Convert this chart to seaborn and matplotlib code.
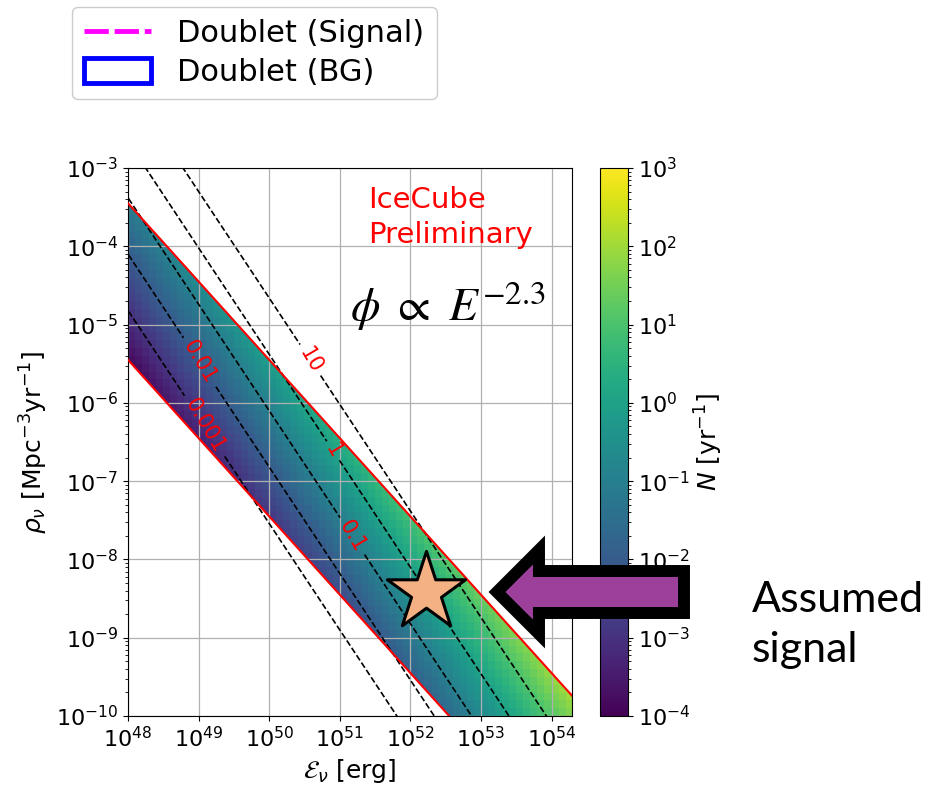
import numpy as np
import matplotlib
matplotlib.use("Agg")
import matplotlib.pyplot as plt
import seaborn as sns
import pandas as pd
from matplotlib.colors import LogNorm
from matplotlib.patches import Polygon, Patch
from matplotlib.lines import Line2D
from matplotlib.ticker import NullLocator, LogLocator

# ---------------- data ----------------
log_E_limits = [48.0, 54.3]          # x range (log10 erg)
log_rho_limits = [-10.0, -3.0]       # y range (log10 Mpc^-3 yr^-1)
cell_dex = 0.1                       # heat-map cell size (decades)
band_log_Erho = [42.55, 44.55]       # band edges: log10(E*rho) lower / upper
# contour model: log10 N = (log rho + k_E * log E - c_unit) / dex_per_decade
k_E = 1.36
c_unit = 62.62
dex_per_decade = 0.72
contour_levels = [0.001, 0.01, 0.1, 1, 10]
contour_texts = ["0.001", "0.01", "0.1", "1", "10"]
label_log_E = [49.12, 49.02, 51.14, 50.89, 50.59]
label_log_rho = [-6.28, -5.48, -7.72, -6.62, -5.45]
star_E = [1.66e52]
star_rho = [3.85e-9]
norm_limits = [1e-4, 1e3]

W, H = 949, 789
def fx(px):
    return px / W
def fy(py):
    return 1 - py / H

def log_N(lE, lr):
    return (lr + k_E * lE - c_unit) / dex_per_decade

fig = plt.figure(figsize=(W / 100, H / 100), dpi=100)
ax = fig.add_axes([fx(128), fy(716), fx(572) - fx(128), fy(168) - fy(716)])
cax = fig.add_axes([fx(600), fy(716), fx(628) - fx(600), fy(168) - fy(716)])
ax.set_xscale("log")
ax.set_yscale("log")

# heat map cells
lE_edges = np.arange(log_E_limits[0], log_E_limits[1] + cell_dex, cell_dex)
lr_edges = np.arange(log_rho_limits[0], log_rho_limits[1] + cell_dex / 2, cell_dex)
lE_c = 0.5 * (lE_edges[1:] + lE_edges[:-1])
lr_c = 0.5 * (lr_edges[1:] + lr_edges[:-1])
LEc, LRc = np.meshgrid(lE_c, lr_c)
Ncell = 10 ** log_N(LEc, LRc)
cmap = sns.color_palette("viridis", as_cmap=True)
mesh = ax.pcolormesh(10 ** lE_edges, 10 ** lr_edges, Ncell, cmap=cmap,
                     norm=LogNorm(*norm_limits), shading="flat", zorder=1)

# clip to the band
lo, hi = band_log_Erho
xa, xb = 47.5, 55.0
poly_verts = [(10 ** xa, 10 ** (lo - xa)), (10 ** xa, 10 ** (hi - xa)),
              (10 ** xb, 10 ** (hi - xb)), (10 ** xb, 10 ** (lo - xb))]
clip = Polygon(poly_verts, closed=True, transform=ax.transData,
               facecolor="none", edgecolor="none")
mesh.set_clip_path(clip)

# band edges (red)
line_E = np.array([10 ** xa, 10 ** xb])
for b in band_log_Erho:
    df = pd.DataFrame({"E": line_E, "rho": 10 ** (b - np.log10(line_E))})
    sns.lineplot(data=df, x="E", y="rho", color="red", lw=1.5, ax=ax,
                 zorder=3, legend=False)

# contours
fE = np.linspace(47.8, 54.5, 300)
fR = np.linspace(-10.3, -2.7, 300)
FE, FR = np.meshgrid(fE, fR)
cs = ax.contour(10 ** FE, 10 ** FR, 10 ** log_N(FE, FR), levels=contour_levels,
                colors="k", linestyles="--", linewidths=1.2, zorder=2)
fmt = {lv: t for lv, t in zip(contour_levels, contour_texts)}
ax.clabel(cs, levels=contour_levels, fmt=fmt, colors="red", fontsize=15,
          inline=True, inline_spacing=4,
          manual=list(zip(10 ** np.array(label_log_E), 10 ** np.array(label_log_rho))))

# star
sns.scatterplot(x=star_E, y=star_rho, marker="*", s=3500, color="#F4B183",
                edgecolor="black", linewidth=2.2, ax=ax, zorder=6, legend=False)

ax.set_xlim(10 ** log_E_limits[0], 10 ** 54.29)
ax.set_ylim(10 ** log_rho_limits[0], 10 ** log_rho_limits[1])
ax.xaxis.set_major_locator(LogLocator(base=10, numticks=20))
ax.yaxis.set_major_locator(LogLocator(base=10, numticks=20))
ax.xaxis.set_minor_locator(NullLocator())
ax.grid(True, which="major", color="#b0b0b0", lw=0.9)
ax.tick_params(labelsize=16)
ax.set_xlabel(r"$\mathcal{E}_\nu$ [erg]", fontsize=18)
ax.set_ylabel(r"$\rho_\nu$ [Mpc$^{-3}$yr$^{-1}$]", fontsize=18)
ax.xaxis.set_label_coords(0.5, -0.075)
ax.yaxis.set_label_coords(-0.175, 0.5)

cb = fig.colorbar(mesh, cax=cax)
cb.ax.tick_params(labelsize=16)
cb.set_label(r"$N$ [yr$^{-1}$]", fontsize=18, labelpad=2)

# texts
fig.text(fx(368), fy(208), "IceCube", color="red", fontsize=21, va="baseline")
fig.text(fx(368), fy(243), "Preliminary", color="red", fontsize=21, va="baseline")
fig.text(fx(448), fy(306), r"$\phi\ \propto\ E^{-2.3}$", fontsize=34,
         ha="center", va="center", math_fontfamily="stix")
fig.text(fx(752), fy(612), "Assumed", fontsize=31, family="Lato", va="baseline")
fig.text(fx(752), fy(662), "signal", fontsize=31, family="Lato", va="baseline")

# arrow
arrow_px = [(497, 592), (539, 550), (539, 571), (684, 571),
            (684, 613), (539, 613), (539, 634)]
arrow = Polygon([(fx(x), fy(y)) for x, y in arrow_px], closed=True,
                transform=fig.transFigure, facecolor="#9C409C",
                edgecolor="black", lw=8.6, joinstyle="miter", zorder=20)
fig.patches.append(arrow)

# legend
handles = [Line2D([], [], color="magenta", ls=(0, (5, 1.2)), lw=3.5),
           Patch(facecolor="none", edgecolor="blue", lw=3.5)]
fig.legend(handles, ["Doublet (Signal)", "Doublet (BG)"], loc="upper left",
           bbox_to_anchor=(fx(72), fy(7)), borderaxespad=0, fontsize=22,
           handlelength=2.2, handleheight=0.9, labelspacing=0.3, borderpad=0.4,
           handletextpad=0.85, framealpha=1, edgecolor="#cccccc")

fig.savefig("out.png", dpi=100)
